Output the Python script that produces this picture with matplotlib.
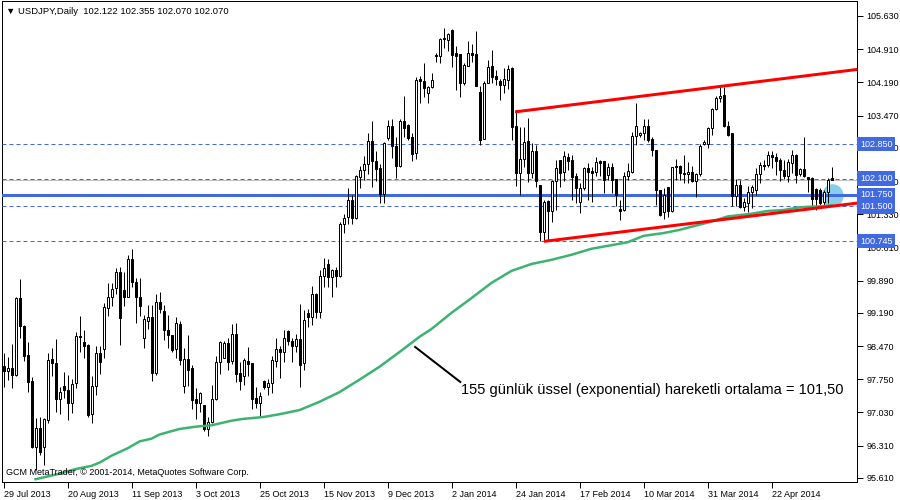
import matplotlib
import numpy as np

matplotlib.use("Agg")
import matplotlib.pyplot as plt
import matplotlib.transforms as mtransforms
from matplotlib.patches import Ellipse

plt.rcParams["font.family"] = ["Liberation Sans", "DejaVu Sans"]

# daily USDJPY candles (bar 0 = 29 Jul 2013)
opens = [
    98.04, 97.92, 97.99, 97.84, 99.51, 98.91, 98.28, 97.71, 96.29, 96.69,
    96.28, 96.87, 98.19, 98.10, 97.33, 97.61, 97.52, 97.23, 97.66, 98.69,
    98.55, 98.49, 96.99, 97.61, 98.31, 98.40, 99.29, 99.53, 99.72, 100.07,
    99.69, 99.54, 100.35, 99.85, 99.53, 98.65, 99.02, 99.10, 97.89, 99.42,
    99.23, 98.82, 98.70, 98.40, 98.95, 97.61, 98.18, 97.99, 97.32, 97.23,
    97.19, 96.68, 96.82, 97.32, 98.13, 98.22, 98.53, 98.15, 98.73, 97.88,
    97.83, 98.15, 98.10, 97.34, 97.24, 97.71, 97.59, 97.66, 98.15, 98.41,
    98.33, 98.80, 98.58, 98.46, 98.62, 98.10, 99.18, 99.11, 99.60, 99.20,
    99.99, 100.24, 99.96, 100.12, 99.99, 101.12, 101.26, 101.64, 101.24, 102.13,
    102.29, 102.41, 102.92, 102.49, 102.33, 101.76, 102.98, 103.24, 102.81, 102.38,
    103.35, 103.27, 103.01, 102.65, 104.26, 104.22, 103.95, 104.08, 104.79, 104.76,
    105.15, 105.11, 105.33, 104.82, 104.81, 104.18, 104.55, 104.82, 104.81, 103.97,
    102.96, 104.18, 104.55, 104.33, 104.21, 104.13, 104.24, 104.50, 103.24, 102.22,
    102.52, 102.92, 102.22, 102.69, 101.96, 100.95, 101.62, 101.41, 102.04, 102.51,
    102.24, 102.58, 102.51, 102.15, 101.60, 101.89, 102.33, 102.27, 102.25, 102.49,
    102.49, 102.18, 102.35, 102.09, 101.44, 101.42, 102.16, 102.25, 103.03, 103.05,
    103.09, 103.24, 102.96, 102.72, 101.86, 101.37, 101.91, 101.39, 102.38, 102.38,
    102.22, 102.20, 102.24, 102.04, 102.20, 102.85, 102.85, 103.19, 103.61, 103.86,
    103.92, 103.25, 103.09, 101.73, 101.97, 101.49, 101.58, 101.82, 101.86, 102.20,
    102.39, 102.40, 102.62, 102.58, 102.51, 102.29, 102.15, 102.43, 102.62, 102.20,
    102.30, 102.13, 102.11, 101.87, 101.86, 101.60, 101.82, 102.122,
]
highs = [
    98.31, 98.24, 98.52, 99.54, 99.92, 98.92, 98.55, 97.79, 96.90, 96.94,
    96.90, 98.31, 98.42, 98.62, 97.59, 97.90, 97.84, 97.75, 98.78, 99.12,
    98.82, 98.52, 97.81, 98.47, 98.47, 99.40, 99.83, 99.83, 100.16, 100.19,
    100.07, 100.45, 100.57, 99.94, 99.94, 99.15, 99.36, 99.36, 99.59, 99.64,
    99.35, 99.15, 98.71, 99.10, 99.02, 98.42, 98.71, 98.06, 97.55, 97.47,
    97.19, 96.93, 97.63, 98.26, 98.58, 98.57, 98.65, 98.95, 98.96, 98.13,
    98.22, 98.45, 98.11, 97.58, 97.48, 97.74, 97.76, 98.26, 98.65, 98.46,
    98.82, 98.82, 98.65, 98.73, 99.38, 99.25, 99.27, 99.77, 99.63, 100.12,
    100.37, 100.35, 100.14, 100.19, 101.15, 101.34, 101.89, 101.75, 102.18, 102.38,
    102.59, 103.10, 103.35, 102.69, 102.41, 102.90, 103.37, 103.39, 103.01, 103.40,
    103.90, 103.28, 103.09, 104.30, 104.33, 104.62, 104.11, 104.40, 104.83, 105.15,
    105.36, 105.27, 105.35, 104.97, 104.81, 104.60, 105.09, 105.02, 105.30, 104.12,
    104.21, 104.68, 104.89, 104.46, 104.26, 104.50, 104.57, 104.53, 103.59, 103.23,
    103.23, 103.41, 102.87, 102.83, 101.96, 101.64, 101.64, 102.07, 102.51, 102.51,
    102.69, 102.65, 102.62, 102.22, 102.00, 102.36, 102.43, 102.36, 102.58, 102.51,
    102.49, 102.43, 102.43, 102.09, 101.64, 102.25, 102.43, 103.12, 103.75, 103.12,
    103.39, 103.39, 103.01, 102.72, 101.86, 101.89, 101.93, 102.36, 102.52, 102.40,
    102.62, 102.46, 102.38, 102.22, 102.85, 102.93, 103.23, 103.63, 103.90, 104.10,
    104.10, 103.35, 103.09, 102.09, 102.07, 101.68, 101.94, 101.96, 102.33, 102.47,
    102.51, 102.69, 102.69, 102.65, 102.54, 102.51, 102.52, 102.72, 102.63, 102.33,
    103.00, 102.14, 102.14, 101.89, 101.89, 101.86, 102.11, 102.355,
]
lows = [
    97.59, 97.74, 97.55, 97.81, 98.64, 98.15, 97.48, 96.25, 95.78, 96.11,
    95.89, 96.81, 97.83, 97.03, 97.00, 97.34, 96.87, 97.01, 97.55, 98.35,
    98.22, 96.94, 96.80, 97.41, 97.86, 98.22, 99.12, 99.33, 99.60, 98.49,
    99.33, 99.53, 99.76, 98.96, 99.12, 98.42, 98.83, 97.72, 97.84, 99.18,
    98.60, 98.42, 98.34, 98.21, 98.05, 97.46, 97.61, 97.10, 96.89, 97.03,
    96.63, 96.52, 96.80, 97.30, 97.87, 98.21, 97.95, 98.08, 97.70, 97.52,
    97.63, 97.83, 97.11, 97.12, 96.93, 97.54, 97.40, 97.45, 98.02, 97.77,
    98.13, 98.49, 98.13, 98.35, 97.59, 97.95, 98.89, 98.93, 99.07, 99.07,
    99.76, 99.74, 99.53, 99.74, 99.97, 100.92, 101.12, 101.12, 101.23, 101.89,
    102.07, 102.20, 101.93, 102.04, 101.58, 101.58, 102.93, 102.54, 102.11, 102.35,
    103.01, 102.94, 102.49, 102.52, 103.75, 103.87, 103.74, 104.06, 104.64, 104.60,
    104.93, 104.86, 104.53, 104.03, 103.88, 104.13, 104.55, 104.64, 104.12, 102.83,
    102.96, 104.17, 104.18, 104.13, 103.81, 103.95, 104.04, 102.94, 101.95, 101.75,
    102.36, 102.02, 102.11, 101.93, 100.74, 100.74, 100.74, 101.17, 101.42, 101.93,
    102.04, 102.29, 101.64, 101.57, 101.35, 101.86, 101.64, 101.60, 102.15, 102.15,
    101.78, 102.07, 101.78, 101.51, 101.21, 101.39, 102.07, 102.23, 102.83, 103.01,
    102.93, 102.90, 102.59, 101.53, 101.29, 101.22, 101.26, 101.37, 102.07, 102.07,
    102.00, 102.00, 102.02, 101.71, 102.15, 102.83, 102.76, 103.05, 103.59, 103.77,
    103.23, 103.03, 101.51, 101.51, 101.46, 101.39, 101.37, 101.46, 101.75, 102.00,
    102.28, 102.36, 102.33, 102.18, 102.06, 102.09, 102.02, 102.23, 102.00, 102.16,
    102.14, 101.82, 101.46, 101.42, 101.46, 101.53, 101.58, 102.070,
]
closes = [
    97.92, 97.99, 97.84, 99.51, 98.91, 98.26, 97.70, 96.29, 96.69, 96.18,
    96.89, 98.17, 98.10, 97.33, 97.48, 97.52, 97.23, 97.64, 98.68, 98.67,
    98.47, 96.98, 97.61, 98.31, 98.13, 99.31, 99.53, 99.70, 100.07, 99.07,
    99.54, 100.35, 99.85, 99.53, 99.33, 99.05, 99.09, 97.89, 99.42, 99.28,
    98.81, 98.70, 98.39, 98.97, 98.17, 98.18, 97.95, 97.30, 97.23, 97.45,
    96.67, 96.83, 97.32, 98.12, 98.55, 98.53, 98.13, 98.73, 97.87, 97.72,
    98.17, 98.08, 97.33, 97.24, 97.39, 97.59, 97.66, 98.17, 98.41, 98.33,
    98.64, 98.57, 98.46, 98.62, 98.05, 99.04, 99.11, 99.60, 99.20, 99.99,
    100.16, 99.96, 100.11, 99.98, 101.12, 101.24, 101.64, 101.24, 102.15, 102.29,
    102.41, 102.92, 102.49, 102.31, 101.76, 102.87, 103.24, 102.81, 102.38, 103.35,
    103.19, 102.98, 102.63, 104.24, 104.21, 104.06, 104.08, 104.24, 104.76, 105.12,
    105.12, 105.24, 104.78, 104.77, 104.18, 104.57, 104.82, 104.78, 104.12, 102.94,
    104.17, 104.52, 104.31, 104.26, 104.13, 104.26, 104.47, 103.23, 102.23, 102.53,
    102.90, 102.23, 102.70, 102.04, 100.95, 101.60, 101.41, 102.05, 102.33, 102.22,
    102.59, 102.49, 102.13, 101.89, 101.89, 102.33, 102.25, 102.23, 102.47, 102.45,
    102.07, 102.35, 102.07, 101.75, 101.41, 102.16, 102.27, 103.03, 103.24, 103.10,
    103.24, 102.94, 102.72, 101.86, 101.31, 101.75, 101.39, 102.35, 102.36, 102.23,
    102.21, 102.24, 102.04, 102.20, 102.81, 102.90, 103.19, 103.61, 103.86, 103.90,
    103.25, 103.05, 101.73, 101.97, 101.49, 101.60, 101.82, 101.91, 102.20, 102.40,
    102.38, 102.62, 102.58, 102.49, 102.28, 102.15, 102.47, 102.62, 102.18, 102.30,
    102.16, 102.09, 101.65, 101.65, 101.58, 101.82, 102.07, 102.070,
]

date_labels = [
    "29 Jul 2013", "20 Aug 2013", "11 Sep 2013", "3 Oct 2013", "25 Oct 2013",
    "15 Nov 2013", "9 Dec 2013", "2 Jan 2014", "24 Jan 2014", "17 Feb 2014",
    "10 Mar 2014", "31 Mar 2014", "22 Apr 2014",
]
date_bars = [0, 16, 32, 48, 64, 80, 96, 112, 128, 144, 160, 176, 192]

price_ticks = [105.63, 104.91, 104.19, 103.47, 102.77, 102.05, 101.33,
               100.61, 99.89, 99.19, 98.47, 97.75, 97.03, 96.31, 95.61]

# 155 day EMA, sampled along the green line
ema_bars = [8, 14, 18, 22, 24, 27, 31, 34, 37, 39, 44, 48, 52, 57, 60, 65, 69,
            74, 79, 84, 89, 94, 99, 104, 107, 112, 117, 122, 127, 132, 137,
            142, 147, 156, 160, 165, 169, 173, 177, 181, 187, 191, 195, 199,
            206, 207]
ema_values = [95.58, 95.70, 95.80, 95.87, 95.94, 96.09, 96.25, 96.40, 96.46,
              96.55, 96.67, 96.72, 96.75, 96.85, 96.89, 96.93, 96.99, 97.08,
              97.26, 97.47, 97.74, 98.02, 98.34, 98.67, 98.84, 99.19, 99.51,
              99.84, 100.10, 100.25, 100.34, 100.45, 100.58, 100.72, 100.86,
              100.92, 100.99, 101.08, 101.17, 101.28, 101.34, 101.40, 101.42,
              101.48, 101.51, 101.52]

# channel trend lines (start bar/price, end bar/price)
upper_bars = [127.9, 213.4]
upper_prices = [103.55, 104.47]
lower_bars = [135.1, 213.4]
lower_prices = [100.74, 101.57]

dashed_levels = [102.85, 102.10, 101.50, 100.745]
solid_level = 101.75
bid_level = 102.07
level_labels = ["102.850", "102.100", "101.750", "101.500", "100.745"]
level_values = [102.85, 102.10, 101.75, 101.50, 100.745]

header = "\u25bc USDJPY,Daily  102.122 102.355 102.070 102.070"
copyright_text = "GCM MetaTrader, \u00a9 2001-2014, MetaQuotes Software Corp."
note_text = "155 günlük üssel (exponential) hareketli ortalama = 101,50"

BLUE = "#4169E1"
PX = 0.72  # one pixel in points at 100 dpi

figure = plt.figure(figsize=(9, 5), dpi=100)
ax = figure.add_axes([2 / 900, 18 / 500, 855 / 900, 481 / 500])
ax.set_xlim(-0.375, 213.375)
ax.set_ylim(95.52, 105.955)

o = np.array(opens)
h = np.array(highs)
l = np.array(lows)
c = np.array(closes)
x = np.arange(len(c))

# candles
ax.vlines(x, l, h, color="black", linewidth=PX, zorder=3)
body_bottom = np.minimum(o, c)
body_height = np.maximum(np.abs(c - o), 0.006)
face = np.where(c >= o, "white", "black")
ax.bar(x, body_height, bottom=body_bottom, width=0.5, color=face,
       edgecolor="black", linewidth=PX, zorder=4)

# highlight blob near the last bars
ax.add_patch(Ellipse((207.3, 101.73), width=5.4, height=0.5,
                     facecolor="#87CEEB", edgecolor="none", zorder=2))

# horizontal levels
for level in dashed_levels:
    ax.axhline(level, color=BLUE, linewidth=PX, dashes=(4, 3), zorder=2.6)
ax.axhline(bid_level, color="#C0C0C0", linewidth=PX, zorder=2.5)
ax.axhline(solid_level, color=BLUE, linewidth=3 * PX, zorder=2.7)

# indicator and channel
ax.plot(ema_bars, ema_values, color="#3CB371", linewidth=2.5 * PX, zorder=5)
ax.plot(upper_bars, upper_prices, color="red", linewidth=3 * PX, zorder=5,
        solid_capstyle="butt")
ax.plot(lower_bars, lower_prices, color="red", linewidth=3 * PX, zorder=5,
        solid_capstyle="butt")

# annotation
ax.plot([102.9, 114.2], [98.45, 97.69], color="black", linewidth=2 * PX,
        zorder=5)
ax.text(114.4, 97.52, note_text, fontsize=10.5, ha="left", va="center",
        color="black", zorder=6)

# axes styling
ax.yaxis.tick_right()
ax.set_yticks(price_ticks)
ax.set_yticklabels([f"{v:.3f}" for v in price_ticks])
ax.set_xticks(date_bars)
ax.set_xticklabels(date_labels)
for label in ax.get_xticklabels():
    label.set_horizontalalignment("left")
ax.tick_params(axis="y", direction="out", length=4, width=PX, pad=3,
               labelsize=6.5, colors="black")
ax.tick_params(axis="x", direction="out", length=4, width=PX, pad=2,
               labelsize=6.5, colors="black")
for spine in ax.spines.values():
    spine.set_linewidth(PX)
    spine.set_color("black")

# price boxes on the right axis
blend = mtransforms.blended_transform_factory(ax.transAxes, ax.transData)
for text, value in zip(level_labels, level_values):
    ax.text(1.0 + 3 / 855, value, text, transform=blend, ha="left",
            va="center", fontsize=6.5, color="white", zorder=10,
            clip_on=False,
            bbox=dict(boxstyle="square,pad=0.3", facecolor=BLUE,
                      edgecolor="none"))

ax.text(4 / 855, 0.979, header, transform=ax.transAxes, ha="left",
        va="center", fontsize=6.8, color="black", zorder=10)
ax.text(4 / 855, 0.019, copyright_text, transform=ax.transAxes, ha="left",
        va="center", fontsize=6.5, color="black", zorder=10)

figure.savefig("out.png", dpi=100, facecolor="white")
plt.close(figure)
